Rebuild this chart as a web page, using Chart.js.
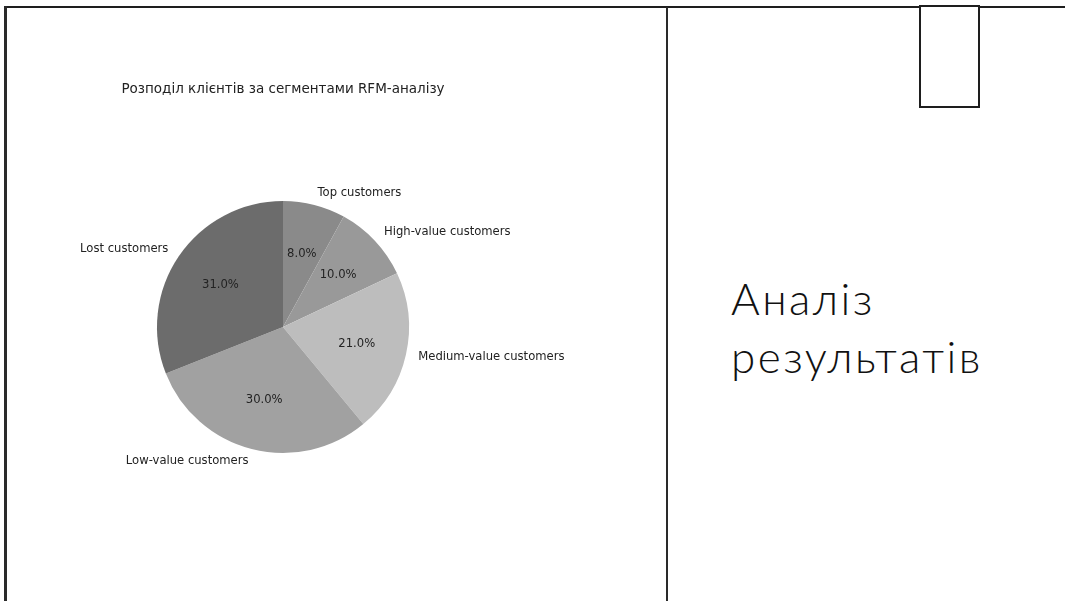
<!DOCTYPE html>
<html>
<head>
<meta charset="utf-8">
<script src="https://cdn.jsdelivr.net/npm/chart.js@4"></script>
<style>
    body { margin: 0; background: #fff; width: 1065px; height: 601px; overflow: hidden; position: relative; }
    .frame-top  { position: absolute; left: 4px; top: 6px; width: 1061px; height: 2px; background: #1e1e1e; }
    .frame-left { position: absolute; left: 4px; top: 6px; width: 3px; height: 595px; background: #2a2a2a; }
    .divider    { position: absolute; left: 666px; top: 7px; width: 2px; height: 594px; background: #2a2a2a; }
    .box        { position: absolute; left: 919px; top: 5px; width: 57px; height: 99px; border: 2px solid #1e1e1e; background: #fff; }
    #chartWrap  { position: absolute; left: 0; top: 0; width: 660px; height: 600px; }
    .heading {
        position: absolute; left: 731px; top: 269px;
        font-family: Lato, "Open Sans", sans-serif; font-weight: 300;
        font-size: 44px; line-height: 58px; color: #111; letter-spacing: 2.5px;
    }
</style>
</head>
<body>
<div class="frame-top"></div>
<div class="frame-left"></div>
<div class="divider"></div>
<div class="box"></div>
<div id="chartWrap"><canvas id="rfmPie" width="660" height="600"></canvas></div>
<div class="heading">Аналіз<br>результатів</div>

<script>
const chartTitle = 'Розподіл клієнтів за сегментами RFM-аналізу';
const segments = ['Top customers', 'High-value customers', 'Medium-value customers', 'Low-value customers', 'Lost customers'];
const shares = [8.0, 10.0, 21.0, 30.0, 31.0];
const sliceColors = ['#8a8a8a', '#999999', '#bdbdbd', '#a1a1a1', '#6c6c6c'];

// draws the title, outer labels and the percentages inside the slices
const pieLabels = {
    id: 'pieLabels',
    afterDraw(chart) {
        const ctx = chart.ctx;
        const arcs = chart.getDatasetMeta(0).data;
        ctx.save();
        ctx.fillStyle = '#222';
        ctx.font = '13.5px "DejaVu Sans"';
        ctx.textAlign = 'center';
        ctx.textBaseline = 'middle';
        ctx.fillText(chartTitle, (chart.chartArea.left + chart.chartArea.right) / 2, 89);

        ctx.font = '11.6px "DejaVu Sans"';
        arcs.forEach((arc, i) => {
            const p = arc.getProps(['x', 'y', 'startAngle', 'endAngle', 'outerRadius'], true);
            const mid = (p.startAngle + p.endAngle) / 2;
            const cos = Math.cos(mid), sin = Math.sin(mid);

            ctx.textAlign = cos >= 0 ? 'left' : 'right';
            ctx.fillText(segments[i], p.x + cos * p.outerRadius * 1.1, p.y + sin * p.outerRadius * 1.1);

            ctx.textAlign = 'center';
            ctx.fillText(shares[i].toFixed(1) + '%', p.x + cos * p.outerRadius * 0.6, p.y + sin * p.outerRadius * 0.6);
        });
        ctx.restore();
    }
};

const ctx = document.getElementById('rfmPie').getContext('2d');
const chart = new Chart(ctx, {
    type: 'pie',
    data: {
        labels: segments,
        datasets: [{
            data: shares,
            backgroundColor: sliceColors,
            borderWidth: 0
        }]
    },
    options: {
        responsive: false,
        animation: false,
        layout: { padding: { left: 157, right: 251, top: 201, bottom: 147 } },
        plugins: {
            legend: { display: false },
            tooltip: { enabled: false }
        }
    },
    plugins: [pieLabels]
});
</script>
</body>
</html>
